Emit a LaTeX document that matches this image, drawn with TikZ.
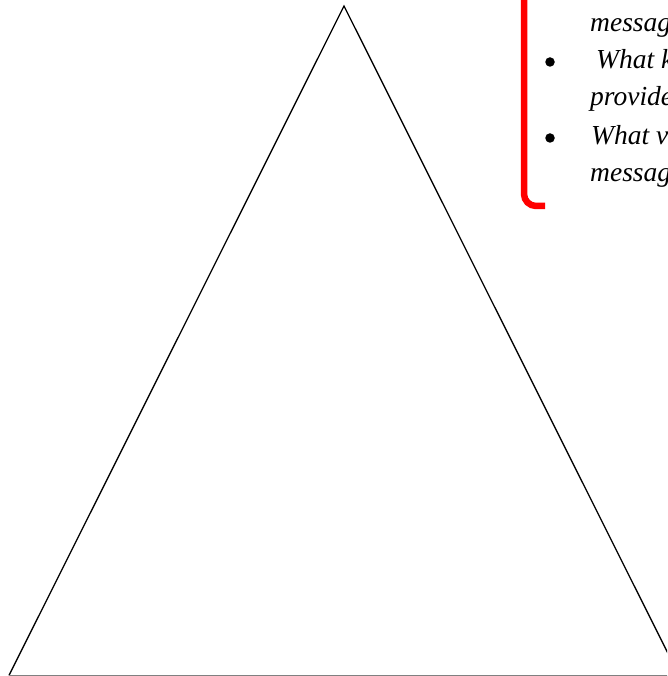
\documentclass[tikz,border=0pt]{standalone}
\usepackage{fontspec}
\setmainfont{Liberation Serif}
\begin{document}
\begin{tikzpicture}[x=1pt,y=1pt,
  txt/.style={anchor=base west,inner sep=0pt,font=\fontsize{27.5pt}{37pt}\selectfont\itshape},
  bul/.style={circle,fill=black,inner sep=0pt,minimum size=9.5pt},
  bracket/.style={draw=red,line width=6.5pt,rounded corners=12pt}]
\useasboundingbox (0,0) rectangle (667,676);
\begin{scope}
\clip (0,0) rectangle (667,676);
% triangle
\coordinate (apex) at (344,670);
\coordinate (bl) at (9,0.6);
\coordinate (br) at (679,0.6);
\draw[line width=1.3pt,line join=miter] (bl) -- (apex) -- (br);
\draw[line width=1.3pt,draw=black!50] (bl) -- (br);
% red bracket
\coordinate (btop) at (524,690);
\coordinate (bend) at (545,470);
\draw[bracket] (btop) |- (bend);
% bullets and text
\node[bul] (b1) at (550,614) {};
\node[bul] (b2) at (550,538) {};
\node[txt] (t1) at (590,644) {messag};
\node[txt] (t2) at (596,607) {What k};
\node[txt] (t3) at (590,570) {provide};
\node[txt] (t4) at (591,531) {What va};
\node[txt] (t5) at (590,494) {messag};
\end{scope}
\end{tikzpicture}
\end{document}
